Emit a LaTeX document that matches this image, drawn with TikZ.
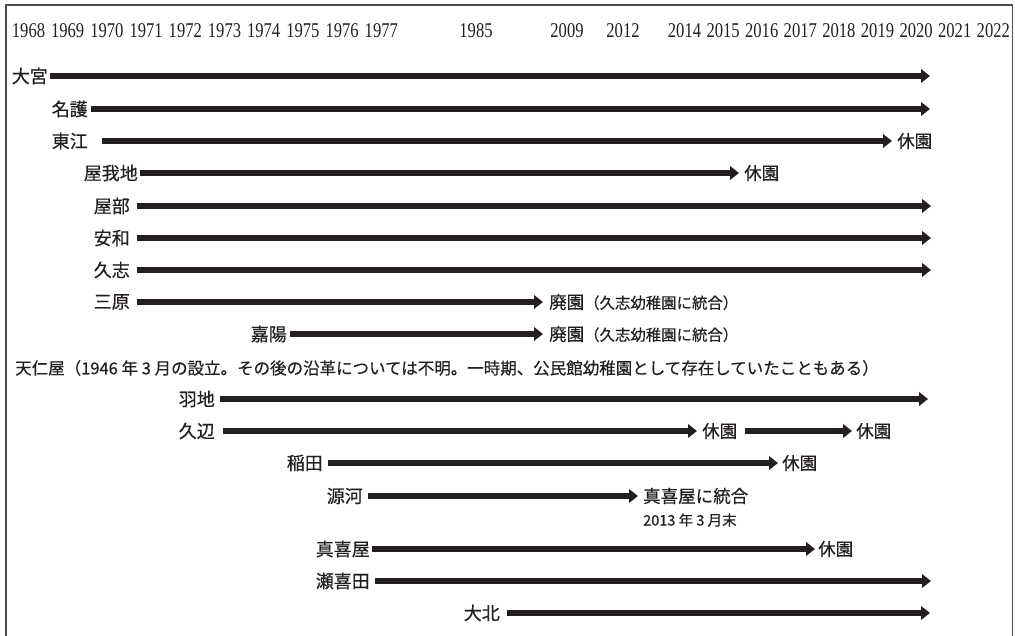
\documentclass[tikz,border=0pt]{standalone}
\usepackage{fontspec}
\setmainfont{Liberation Serif}
\newfontfamily\jp{Noto Sans CJK JP}[FakeBold=0.5]
\newfontfamily\yrfont{Liberation Serif}[FakeStretch=0.79]
\usetikzlibrary{arrows.meta}
\definecolor{ink}{HTML}{231F20}
\begin{document}
\begin{tikzpicture}[x=1pt,y=-1pt,
  lbl/.style={inner sep=0pt, anchor=east, font=\jp\fontsize{18}{20}\selectfont, text=ink},
  endtxt/.style={inner sep=0pt, anchor=west, font=\jp\fontsize{17.5}{20}\selectfont, text=ink},
  note/.style={inner sep=0pt, anchor=west, font=\jp\fontsize{16.5}{19}\selectfont, text=ink},
  yr/.style={inner sep=0pt, font=\yrfont\fontsize{21}{23}\selectfont, text=ink},
  arr/.style={line width=5.5pt, draw=ink, -{Triangle[length=9pt,width=13.5pt]}},
  frame/.style={line width=1.3pt, draw=black!70}]
\useasboundingbox (0,0) rectangle (1015,636);
\draw[frame] (6,640) -- (6,5) -- (1012.5,5) -- (1012.5,640);

% years
\foreach \k in {0,...,9}{
  \pgfmathtruncatemacro{\yy}{1968+\k}
  \node[yr] (y\yy) at ({28.5+39.2*\k},31) {\yy};
}
\node[yr] (y1985) at (476,31) {1985};
\node[yr] (y2009) at (567,31) {2009};
\node[yr] (y2012) at (623,31) {2012};
\foreach \k in {0,...,8}{
  \pgfmathtruncatemacro{\yy}{2014+\k}
  \node[yr] (y\yy) at ({684.5+38.6*\k},31) {\yy};
}

% labels
\node[lbl] (L1) at (48,76) {大宮};
\node[lbl] (L2) at (88,109) {名護};
\node[lbl] (L3) at (88,141) {東江};
\node[lbl] (L4) at (138,173) {屋我地};
\node[lbl] (L5) at (130,206) {屋部};
\node[lbl] (L6) at (130,238) {安和};
\node[lbl] (L7) at (130,270) {久志};
\node[lbl] (L8) at (130,302) {三原};
\node[lbl] (L9) at (287,334) {嘉陽};
\node[note] (L10) at (15,368) {天仁屋（1946 年 3 月の設立。その後の沿革については不明。一時期、公民館幼稚園として存在していたこともある）};
\node[lbl] (L11) at (215,399) {羽地};
\node[lbl] (L12) at (215,431) {久辺};
\node[lbl] (L13) at (323,463) {稲田};
\node[lbl] (L14) at (363,496) {源河};
\node[lbl] (L15) at (370,549) {真喜屋};
\node[lbl] (L16) at (370,581) {瀬喜田};
\node[lbl] (L17) at (500,613) {大北};

% end texts
\node[endtxt] (E3) at (897,141) {休園};
\node[endtxt] (E4) at (744,173) {休園};
\node[endtxt] (E8) at (549,302) {廃園{\fontsize{15.4}{18}\selectfont（久志幼稚園に統合）}};
\node[endtxt] (E9) at (549,334) {廃園{\fontsize{15.4}{18}\selectfont（久志幼稚園に統合）}};
\node[endtxt] (E12a) at (702,431) {休園};
\node[endtxt] (E12b) at (856,431) {休園};
\node[endtxt] (E13) at (782,463) {休園};
\node[endtxt] (E14) at (643,496) {真喜屋に統合};
\node[inner sep=0pt, anchor=west, font=\jp\fontsize{14.5}{17}\selectfont, text=ink] (D14) at (643,520) {2013 年 3 月末};
\node[endtxt] (E15) at (818,549) {休園};

% free arrow ends
\coordinate (T1) at (930,76);
\coordinate (T2) at (930,109);
\coordinate (T5) at (931,206);
\coordinate (T6) at (931,238);
\coordinate (T7) at (931,270);
\coordinate (T11) at (928,399);
\coordinate (T16) at (931,581);
\coordinate (T17) at (930,613);

% arrows
\draw[arr] ([xshift=2pt]L1.east |- 0,76) -- (T1);
\draw[arr] ([xshift=3pt]L2.east |- 0,109) -- (T2);
\draw[arr] ([xshift=14pt]L3.east |- 0,141) -- ([xshift=-5pt]E3.west |- 0,141);
\draw[arr] ([xshift=2pt]L4.east |- 0,173) -- ([xshift=-5pt]E4.west |- 0,173);
\draw[arr] ([xshift=7pt]L5.east |- 0,206) -- (T5);
\draw[arr] ([xshift=7pt]L6.east |- 0,238) -- (T6);
\draw[arr] ([xshift=7pt]L7.east |- 0,270) -- (T7);
\draw[arr] ([xshift=7pt]L8.east |- 0,302) -- ([xshift=-6pt]E8.west |- 0,302);
\draw[arr] ([xshift=3pt]L9.east |- 0,334) -- ([xshift=-6pt]E9.west |- 0,334);
\draw[arr] ([xshift=5pt]L11.east |- 0,399) -- (T11);
\draw[arr] ([xshift=8pt]L12.east |- 0,431) -- ([xshift=-5pt]E12a.west |- 0,431);
\draw[arr] ([xshift=8pt]E12a.east |- 0,431) -- ([xshift=-4pt]E12b.west |- 0,431);
\draw[arr] ([xshift=5pt]L13.east |- 0,463) -- ([xshift=-4pt]E13.west |- 0,463);
\draw[arr] ([xshift=5pt]L14.east |- 0,496) -- ([xshift=-5pt]E14.west |- 0,496);
\draw[arr] ([xshift=2pt]L15.east |- 0,549) -- ([xshift=-3pt]E15.west |- 0,549);
\draw[arr] ([xshift=5pt]L16.east |- 0,581) -- (T16);
\draw[arr] ([xshift=7pt]L17.east |- 0,613) -- (T17);
\end{tikzpicture}
\end{document}
